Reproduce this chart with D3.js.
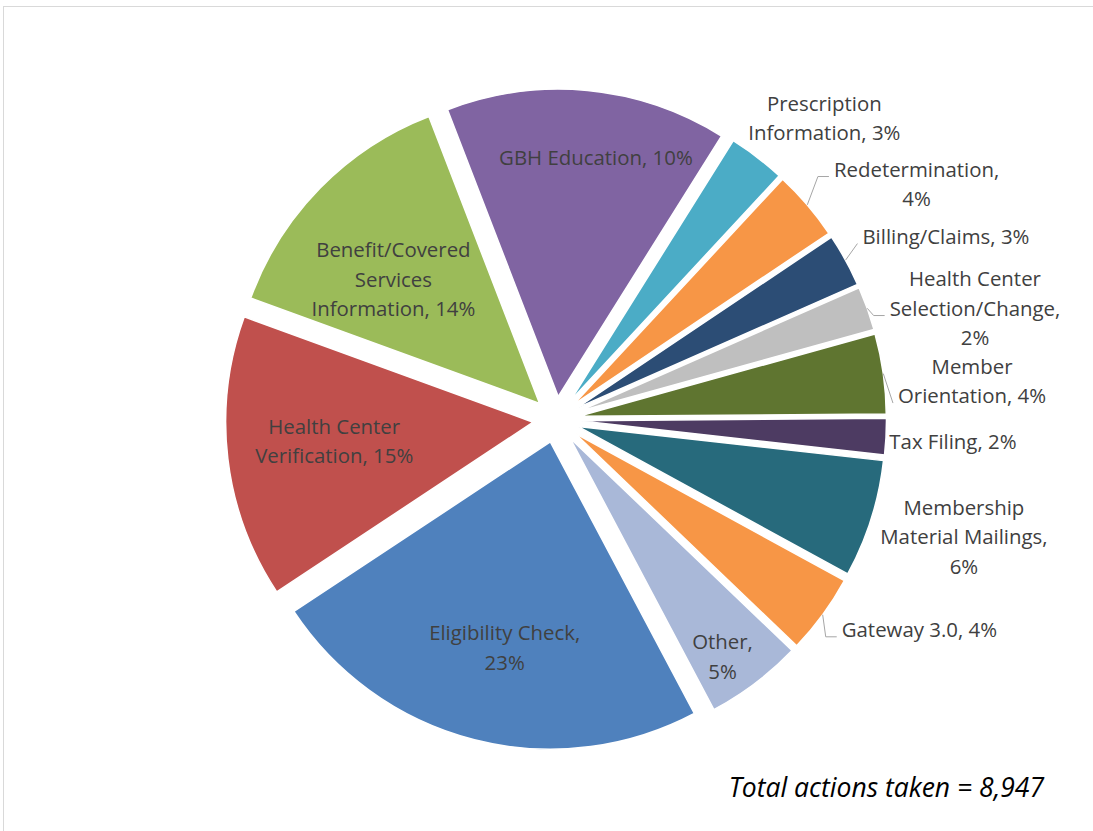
<!DOCTYPE html>
<html>
<head>
<meta charset="utf-8">
<script src="https://cdn.jsdelivr.net/npm/d3@7"></script>
<style>
  html, body { margin: 0; padding: 0; background: #fff; }
  svg { display: block; }
  text { font-family: "Open Sans", sans-serif; }
</style>
</head>
<body>
<svg id="chart"></svg>
<script>
// slice order is clockwise, GBH first
const categories = ["GBH Education", "Prescription Information", "Redetermination", "Billing/Claims",
	"Health Center Selection/Change", "Member Orientation", "Tax Filing", "Membership Material Mailings",
	"Gateway 3.0", "Other", "Eligibility Check", "Health Center Verification",
	"Benefit/Covered Services Information"];
// share of the pie as drawn
const shares = [14.8, 3.0, 3.7, 2.8, 2.3, 4.2, 1.9, 6.2, 4.2, 5.1, 23.5, 14.9, 13.6];
// percentages printed in the labels
const pctLabels = ["10%", "3%", "4%", "3%", "2%", "4%", "2%", "6%", "4%", "5%", "23%", "15%", "14%"];
const colors = ["#8064a2", "#4bacc6", "#f79646", "#2c4d75", "#bfbfbf", "#5f7530", "#4d3b62",
	"#276a7c", "#f79646", "#a9b8d8", "#4f81bd", "#c0504d", "#9bbb59"];
// words per label line
const wraps = [[3], [1, 2], [1, 1], [2], [2, 1, 1], [1, 2], [3], [1, 2, 1], [3], [1, 1], [2, 1], [2, 2], [1, 1, 2]];
const totalNote = "Total actions taken = 8,947";

// label placement: radius factor, angle nudge (deg), leader style, leader line index
const labelLayout = [
	{k: 0.786, da: 3.5},
	{k: 1.237, da: 4.5},
	{k: 1.326, da: 7.8, leader: "elbow", li: 0},
	{k: 1.326, da: 3.9, leader: "line", li: 0},
	{k: 1.335, da: 5.1, leader: "elbow", li: 1},
	{k: 1.284, da: 2.9, leader: "line", li: 1},
	{k: 1.218, da: 0.2},
	{k: 1.306, da: -1.5},
	{k: 1.291, da: -6.5, leader: "elbow", li: 0},
	{k: 0.868, da: 2.2},
	{k: 0.686, da: -1.8},
	{k: 0.650, da: 1.2},
	{k: 0.623, da: -4.2}
];

const W = 1093, H = 831;
const cx = 556, cy = 419.5, R = 307.5, explode = 23;
const startAngle = -21.1 * Math.PI / 180;
const fontSize = 20.4, lineH = 29.5;

const data = categories.map((c, i) => ({cat: c, share: shares[i], pct: pctLabels[i], color: colors[i], wrap: wraps[i], lay: labelLayout[i]}));

let svg = d3.select("#chart").attr("width", W).attr("height", H);

// chart frame
svg.append("rect").attr("x", 3.5).attr("y", 6.5).attr("width", W + 20).attr("height", H + 20)
	.attr("fill", "#fff").attr("stroke", "#d9d9d9").attr("stroke-width", 1);

let pie = d3.pie().sort(null).value(d => d.share).startAngle(startAngle).endAngle(startAngle + 2 * Math.PI);
let arc = d3.arc().innerRadius(0).outerRadius(R);
let arcs = pie(data);

function polar(a, r) {
	return [r * Math.sin(a), -r * Math.cos(a)];
}

arcs.forEach(a => {
	a.mid = (a.startAngle + a.endAngle) / 2;
	let o = polar(a.mid, explode);
	a.ox = cx + o[0];
	a.oy = cy + o[1];
});

svg.selectAll(".slice").data(arcs).enter().append("path")
	.attr("class", "slice")
	.attr("transform", d => `translate(${d.ox},${d.oy})`)
	.attr("d", arc)
	.attr("fill", d => d.data.color)
	.attr("stroke", "#fff")
	.attr("stroke-width", 1.5)
	.attr("stroke-linejoin", "round");

let leaders = svg.append("g");
let labels = svg.append("g");

arcs.forEach(a => {
	let d = a.data;
	let lay = d.lay;
	let p = polar(a.mid + lay.da * Math.PI / 180, lay.k * R);
	let x = a.ox + p[0], y = a.oy + p[1];

	let words = (d.cat + ", " + d.pct).split(" ");
	let lines = [];
	let w = 0;
	d.wrap.forEach(n => { lines.push(words.slice(w, w + n).join(" ")); w += n; });

	let top = y - (lines.length - 1) * lineH / 2;
	let t = labels.append("text")
		.attr("text-anchor", "middle")
		.attr("font-size", fontSize)
		.attr("fill", "#404040");
	let maxW = 0;
	lines.forEach((s, i) => {
		let ts = t.append("tspan").attr("x", x).attr("y", top + i * lineH + 0.35 * fontSize).text(s);
		maxW = Math.max(maxW, ts.node().getComputedTextLength());
	});

	if (lay.leader) {
		let s = polar(a.mid, R);
		let sx = a.ox + s[0], sy = a.oy + s[1];
		let ex = x - maxW / 2 - 5, ey = top + lay.li * lineH + 7;
		let pts = lay.leader == "elbow" ? [[sx, sy], [ex - 11, ey], [ex, ey]] : [[sx, sy], [ex, ey]];
		leaders.append("path")
			.attr("d", d3.line()(pts))
			.attr("fill", "none")
			.attr("stroke", "#a6a6a6")
			.attr("stroke-width", 1);
	}
});

svg.append("text")
	.attr("x", 1044).attr("y", 797)
	.attr("text-anchor", "end")
	.attr("font-size", 26.5)
	.attr("font-style", "italic")
	.attr("fill", "#000")
	.text(totalNote);
</script>
</body>
</html>
